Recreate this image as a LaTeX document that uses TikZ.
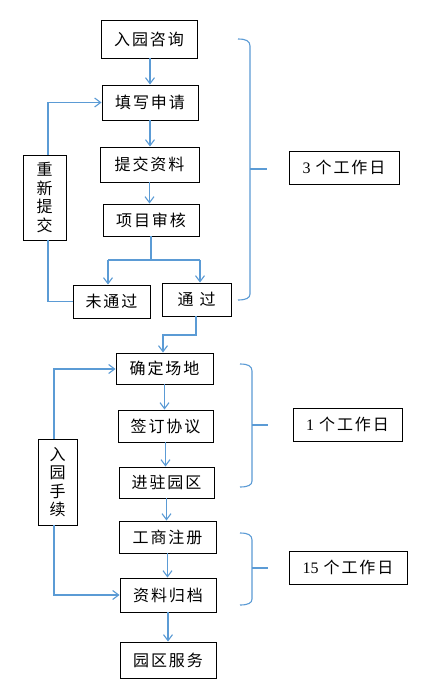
\documentclass[tikz,border=0pt]{standalone}
\usepackage{fontspec}
\setmainfont{Liberation Serif}
\newfontfamily\cjk[LetterSpace=12]{Noto Sans CJK SC}
\usetikzlibrary{arrows.meta}
\definecolor{lb}{RGB}{91,155,213}
\begin{document}
\begin{tikzpicture}[x=1pt,y=-1pt,
  box/.style={draw,line width=0.9pt,inner sep=0pt,font=\cjk\fontsize{16}{18.5}\selectfont,align=center},
  ln/.style={draw=lb,line width=1.1pt},
  arr/.style={ln,-{Straight Barb[length=6pt,width=9pt]}},
  br/.style={draw=lb,line width=1.1pt}]
\useasboundingbox[fill=white] (0,0) rectangle (432,691);
% nodes
\node[box,minimum width=96pt,minimum height=38pt] (n1) at (149,39) {入园咨询};
\node[box,minimum width=96pt,minimum height=35pt] (n2) at (150,102.5) {填写申请};
\node[box,minimum width=99pt,minimum height=35pt] (n3) at (149.5,164.5) {提交资料};
\node[box,minimum width=96pt,minimum height=32pt] (n4) at (151,220) {项目审核};
\node[box,minimum width=43pt,minimum height=85pt] (r1) at (44.5,197.5) {重\\新\\提\\交};
\node[box,minimum width=77pt,minimum height=33pt] (n5) at (111.5,301.5) {未通过};
\node[box,minimum width=69pt,minimum height=33pt] (n6) at (196.5,299.5) {通\hspace{6pt}过};
\node[box,minimum width=110pt,minimum height=33pt] (d1) at (344,167.5) {{\rmfamily 3}\hspace{5pt}个工作日};
\node[box,minimum width=97pt,minimum height=31pt] (n7) at (164.5,368.5) {确定场地};
\node[box,minimum width=95pt,minimum height=32pt] (n8) at (165.5,426) {签订协议};
\node[box,minimum width=95pt,minimum height=31pt] (n9) at (166.5,482.5) {进驻园区};
\node[box,minimum width=97pt,minimum height=32pt] (n10) at (167.5,537) {工商注册};
\node[box,minimum width=96pt,minimum height=34pt] (n11) at (168,595) {资料归档};
\node[box,minimum width=96pt,minimum height=36pt] (n12) at (168,660) {园区服务};
\node[box,minimum width=39pt,minimum height=86pt] (r2) at (57.5,482) {入\\园\\手\\续};
\node[box,minimum width=109pt,minimum height=33pt] (d2) at (347.5,424.5) {{\rmfamily 1}\hspace{5pt}个工作日};
\node[box,minimum width=118pt,minimum height=33pt] (d3) at (348,567.5) {{\rmfamily 15}\hspace{5pt}个工作日};
% connectors
\draw[arr] (n1.south -| n2.north) -- (n2.north);
\draw[arr] (n2.south) -- (n2.south |- n3.north);
\draw[arr] (n3.south) -- (n3.south |- n4.north);
\coordinate (sp) at (151,260);
\coordinate (b5) at (108,260);
\coordinate (b6) at (200,260);
\draw[ln] (n4.south) -- (sp);
\draw[ln] (b5) -- (b6);
\draw[arr] (b5) -- (b5 |- n5.north);
\draw[arr] (b6) -- (b6 |- n6.north);
\coordinate (l1) at (48,301.5);
\draw[ln] (n5.west) -- (l1) -- (l1 |- r1.south);
\coordinate (l2) at (48,102.5);
\draw[arr] (l2 |- r1.north) -- (l2) -- (n2.west);
\coordinate (c1) at (196,335);
\coordinate (c2) at (163,335);
\draw[arr] (c1 |- n6.south) -- (c1) -- (c2) -- (c2 |- n7.north);
\draw[arr] (n7.south) -- (n7.south |- n8.north);
\draw[arr] (n8.south) -- (n8.south |- n9.north);
\draw[arr] (n9.south) -- (n9.south |- n10.north);
\draw[arr] (n10.south) -- (n10.south |- n11.north);
\draw[arr] (n11.south) -- (n11.south |- n12.north);
\coordinate (m1) at (54,369);
\draw[arr] (m1 |- r2.north) -- (m1) -- (m1 -| n7.west);
\coordinate (m2) at (54,595);
\draw[arr] (m2 |- r2.south) -- (m2) -- (n11.west);
% braces
\draw[br] (238,39) .. controls (246,39) and (250,41) .. (250,46) -- (250,294) .. controls (250,298) and (246,300) .. (238,300);
\draw[br] (250,169) -- (267,169);
\draw[br] (240,364) .. controls (248,364) and (252,366) .. (252,371) -- (252,481) .. controls (252,485) and (248,487) .. (240,487);
\draw[br] (252,425) -- (268,425);
\draw[br] (240,533) .. controls (248,533) and (252,535) .. (252,540) -- (252,599) .. controls (252,603) and (248,605) .. (240,605);
\draw[br] (252,568) -- (268,568);
\end{tikzpicture}
\end{document}
